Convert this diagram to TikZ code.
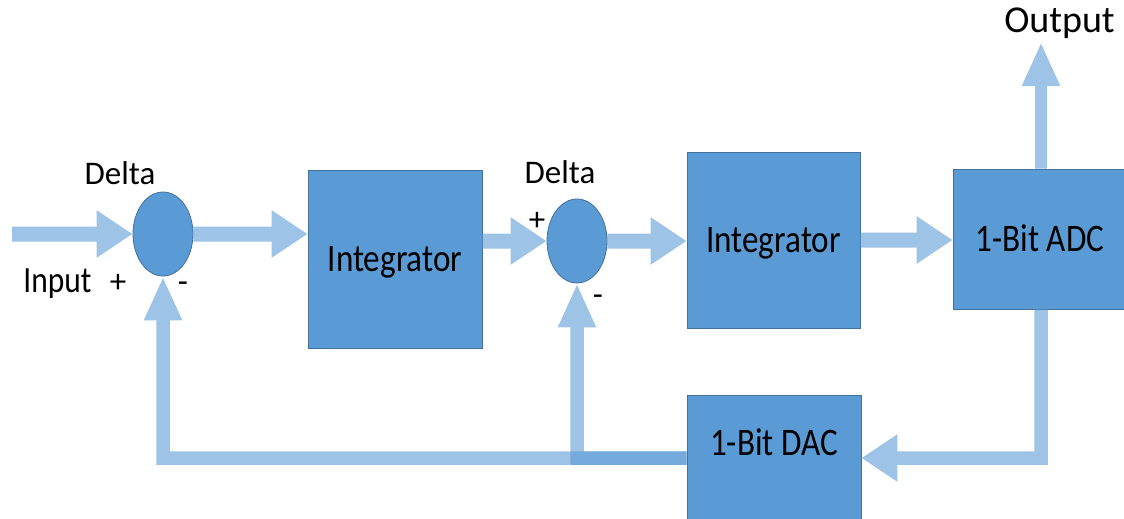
\documentclass[tikz,border=0pt]{standalone}
\usepackage{fontspec}
\setmainfont{Carlito}
\newfontfamily\narrowfont{Carlito}[FakeStretch=0.85]
\usepackage{tikz}
\usetikzlibrary{shapes.geometric}
\usetikzlibrary{arrows.meta}
\definecolor{blkblue}{HTML}{5B9BD5}
\definecolor{blkedge}{HTML}{41719C}

\begin{document}
\begin{tikzpicture}[x=1pt,y=-1pt]
\tikzstyle{blk}=[rectangle, fill=blkblue, draw=blkedge, line width=0.8pt, inner sep=0pt, text height=25pt, text depth=0pt, font=\narrowfont\fontsize{39}{47}\selectfont]
\tikzstyle{sum}=[ellipse, fill=blkblue, draw=blkedge, line width=0.8pt, minimum width=60pt, minimum height=84pt, inner sep=0pt]
\tikzstyle{flow}=[draw=blkblue, line width=15pt, -{Triangle[length=36pt,width=45pt]}]
\tikzstyle{flowv}=[draw=blkblue, line width=12pt, -{Triangle[length=44pt,width=35pt]}]
\tikzstyle{lbl}=[anchor=base, inner sep=0pt, font=\fontsize{33}{40}\selectfont]
\useasboundingbox (0,0) rectangle (1124,519);

\node[sum] (D1) at (163,234) {};
\node[sum] (D2) at (577,241) {};
\node[blk, minimum width=174pt, minimum height=178pt] (I1) at (395,259) {Integrator};
\node[blk, minimum width=173pt, minimum height=176pt] (I2) at (773.5,240) {Integrator};
\node[blk, minimum width=174pt, minimum height=140pt] (ADC) at (1040,239) {1-Bit ADC};
\node[blk, minimum width=174pt, minimum height=126pt, text height=60pt, text depth=66pt] (DAC) at (774,458) {1-Bit DAC};

\node[lbl] (DeltaA) at (120,184) {Delta};
\node[lbl] (DeltaB) at (560,183) {Delta};
\node[lbl, font=\narrowfont\fontsize{37}{44}\selectfont] (InLbl) at (57.5,292) {Input};
\node[lbl, font=\fontsize{38}{45}\selectfont] (OutLbl) at (1059.5,33) {Output};
\node[lbl] (PlusA) at (118,292) {+};
\node[lbl] (MinusA) at (183,292) {-};
\node[lbl] (PlusB) at (537,230) {+};
\node[lbl] (MinusB) at (598,305) {-};

\coordinate (In) at (12,234);
\coordinate (Out) at (1041,42);

\begin{scope}[transparency group, opacity=0.6]
\draw[flow] (In) -- (D1.west);
\draw[flow] (D1.east) -- (D1.east -| I1.west);
\draw[flow] (I1.east |- D2.west) -- (D2.west);
\draw[flow] (D2.east) -- (D2.east -| I2.west);
\draw[flow] (I2.east) -- (I2.east -| ADC.west);
\draw[flowv] (ADC.north -| Out) -- (Out);
\draw[flow, line width=13.5pt] (ADC.south -| Out) |- (DAC.east);
\draw[flowv, line width=13.5pt] (DAC.west) -| (D2.south);
\end{scope}
\begin{scope}[transparency group, opacity=0.6]
\draw[flowv, line width=13.5pt] (DAC.west) -| (D1.south);
\end{scope}
\end{tikzpicture}
\end{document}
